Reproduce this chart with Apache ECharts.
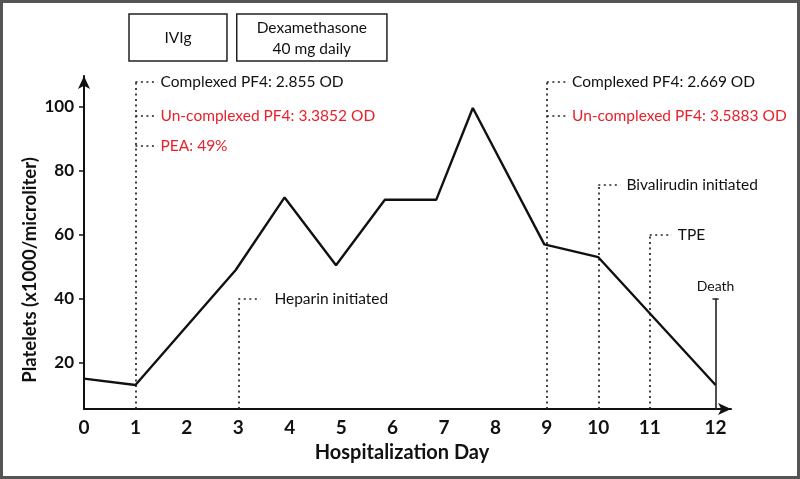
<!DOCTYPE html>
<html>
<head>
<meta charset="utf-8">
<script src="https://cdn.jsdelivr.net/npm/echarts@6/dist/echarts.min.js"></script>
<style>
html,body{margin:0;padding:0;background:#fff;}
#chart{width:800px;height:479px;}
</style>
</head>
<body>
<div id="chart"></div>
<script>
// ---- data ----
const days = [0, 1, 2.95, 3.9, 4.9, 5.85, 6.85, 7.56, 8.95, 10, 12];
const platelets = [15, 13, 49, 71.7, 50.5, 71, 71, 99.7, 57, 53, 13];
const dayTicks = [0,1,2,3,4,5,6,7,8,9,10,11,12];
const yTicks = [20, 40, 60, 80, 100];

const eventDays   = [1, 1, 1, 3, 9, 9, 10, 11];
const eventLevels = [107.8, 97.2, 87.8, 40, 107.8, 97.2, 75.6, 60];
const eventTexts  = ['Complexed PF4: 2.855 OD', 'Un-complexed PF4: 3.3852 OD', 'PEA: 49%',
                     'Heparin initiated', 'Complexed PF4: 2.669 OD', 'Un-complexed PF4: 3.5883 OD',
                     'Bivalirudin initiated', 'TPE'];
const eventIsRed  = [false, true, true, false, false, true, false, false];

const deathDay = 12;
const deathLevel = 40;
const deathText = 'Death';

const treatNames = ['IVIg', 'Dexamethasone\n40 mg daily'];
const treatStart = [0.875, 2.97];
const treatEnd   = [2.78, 5.89];

// ---- layout / scale helpers ----
const Y_MIN = 5.5, Y_MAX = 109.7, X_MIN = 0, X_MAX = 12.58;
const pos = d => d <= 11 ? d : 11 + (d - 11) * 1.28;   // last day drawn slightly wider, as in the figure
const xTickPos = dayTicks.map(pos);
const RED = '#e8212a', INK = '#111';
const FONT = 'Lato';

const chart = echarts.init(document.getElementById('chart'), null, {renderer: 'canvas'});

// dotted event brackets
const dotted = [];
const uniqDays = [...new Set(eventDays)];
uniqDays.forEach(d => {
  const top = Math.max(...eventLevels.filter((l, i) => eventDays[i] === d));
  dotted.push({coords: [[pos(d), Y_MIN], [pos(d), top]]});
});
eventDays.forEach((d, i) => {
  dotted.push({coords: [[pos(d), eventLevels[i]], [pos(d) + 0.43, eventLevels[i]]]});
});

const labelPts = eventDays.map((d, i) => ({
  value: [pos(d) + 0.43, eventLevels[i]],
  name: eventTexts[i],
  label: {color: eventIsRed[i] ? RED : INK, distance: d === 3 ? 14 : (d >= 10 ? 6 : 3)}
}));

const option = {
  animation: false,
  backgroundColor: '#fff',
  grid: {left: 84, right: 69, top: 76, bottom: 70},
  xAxis: {
    type: 'value', min: X_MIN, max: X_MAX,
    axisLine: {show: true, lineStyle: {color: INK, width: 2}, symbol: ['none', 'arrow'], symbolSize: [9, 13]},
    axisTick: {show: false},
    splitLine: {show: false},
    axisLabel: {
      customValues: xTickPos,
      formatter: v => { const k = xTickPos.findIndex(p => Math.abs(p - v) < 1e-6); return k >= 0 ? String(dayTicks[k]) : ''; },
      fontFamily: FONT, fontWeight: 'bold', fontSize: 19, color: INK, margin: 9
    }
  },
  yAxis: {
    type: 'value', min: Y_MIN, max: Y_MAX,
    axisLine: {show: true, lineStyle: {color: INK, width: 2}, symbol: ['none', 'arrow'], symbolSize: [9, 13]},
    axisTick: {show: true, customValues: yTicks, length: 5, lineStyle: {color: INK, width: 1.5}},
    splitLine: {show: false},
    axisLabel: {customValues: yTicks, fontFamily: FONT, fontWeight: 'bold', fontSize: 17, color: INK, margin: 10}
  },
  series: [
    {
      type: 'lines', coordinateSystem: 'cartesian2d', polyline: false, silent: true,
      lineStyle: {color: '#222', width: 1.7, type: [2, 3.5], opacity: 1},
      data: dotted, z: 1
    },
    {
      type: 'line', data: days.map((d, i) => [pos(d), platelets[i]]),
      symbol: 'none', lineStyle: {color: '#111', width: 2.4}, z: 3
    },
    {
      type: 'lines', coordinateSystem: 'cartesian2d', silent: true,
      lineStyle: {color: '#222', width: 1.6, opacity: 1, type: 'solid'},
      data: [
        {coords: [[pos(deathDay), Y_MIN], [pos(deathDay), deathLevel]]},
        {coords: [[pos(deathDay) - 0.06, deathLevel], [pos(deathDay) + 0.06, deathLevel]]}
      ], z: 2
    },
    {
      type: 'scatter', symbolSize: 0, silent: true,
      itemStyle: {opacity: 1},
      data: labelPts.concat([{
        value: [pos(deathDay), deathLevel], name: deathText,
        label: {position: 'top', distance: 5, fontSize: 14, color: INK}
      }]),
      label: {show: true, position: 'right', formatter: p => p.name, fontFamily: FONT, fontSize: 15.5, opacity: 1}
    }
  ],
  graphic: []
};
chart.setOption(option);

const gfx = [
  {type: 'rect', shape: {x: 1.5, y: 1.5, width: 797, height: 476}, style: {fill: 'none', stroke: '#555', lineWidth: 3}, silent: true},
  {type: 'text', x: 30, y: 270, rotation: Math.PI / 2,
   style: {text: 'Platelets (x1000/microliter)', fontFamily: FONT, fontWeight: 'bold', fontSize: 18.5, fill: INK, align: 'center', verticalAlign: 'middle'}},
  {type: 'text', x: 402, y: 453,
   style: {text: 'Hospitalization Day', fontFamily: FONT, fontWeight: 'bold', fontSize: 20, fill: INK, align: 'center', verticalAlign: 'middle'}}
];
treatNames.forEach((n, i) => {
  const x0 = chart.convertToPixel({gridIndex: 0}, [pos(treatStart[i]), Y_MIN])[0];
  const x1 = chart.convertToPixel({gridIndex: 0}, [pos(treatEnd[i]), Y_MIN])[0];
  gfx.push({type: 'rect', shape: {x: x0, y: 14, width: x1 - x0, height: 47}, style: {fill: '#fff', stroke: '#222', lineWidth: 1.5}});
  gfx.push({type: 'text', x: (x0 + x1) / 2, y: 38,
    style: {text: n, fontFamily: FONT, fontSize: 15.5, lineHeight: 21, fill: INK, align: 'center', verticalAlign: 'middle'}});
});
chart.setOption({graphic: gfx});
</script>
</body>
</html>
